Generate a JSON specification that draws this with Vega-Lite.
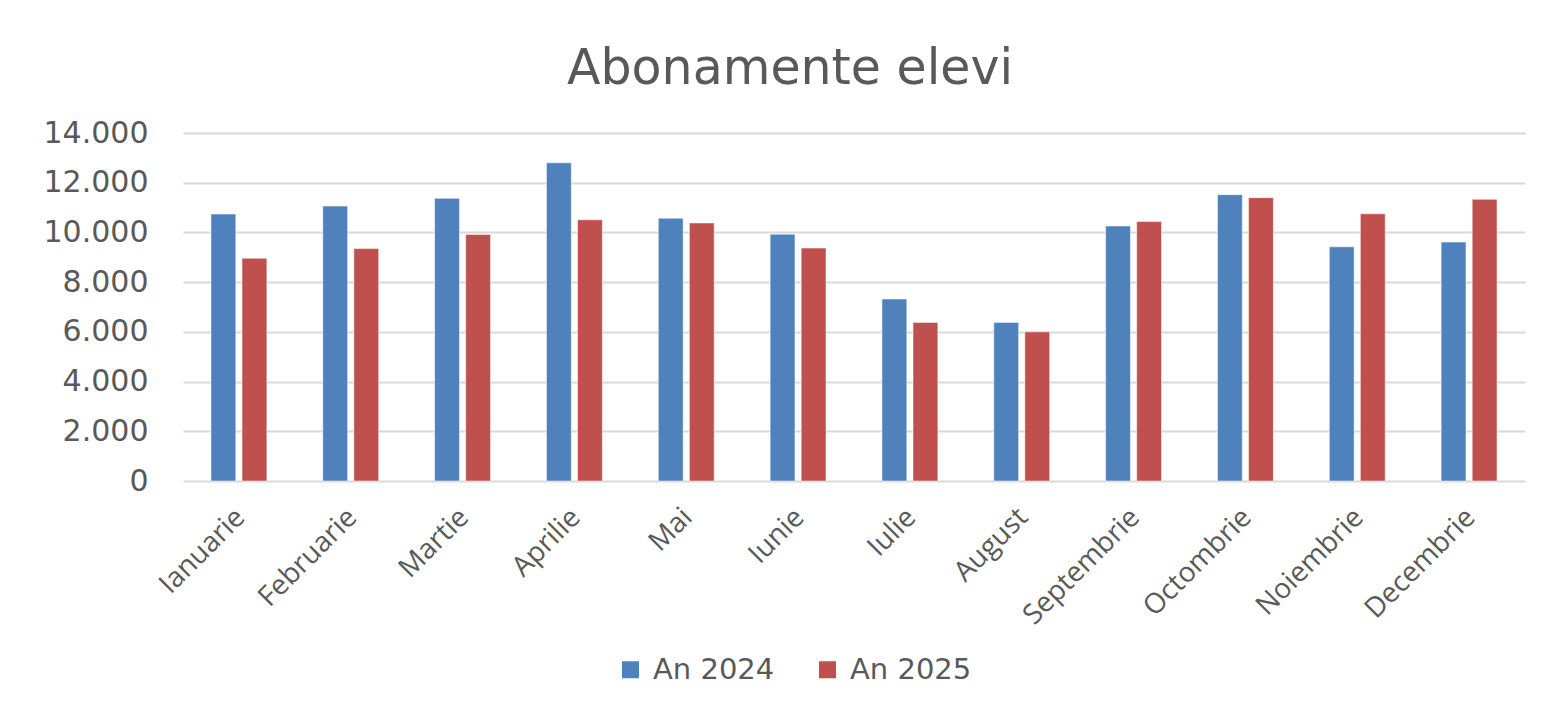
{
  "$schema": "https://vega.github.io/schema/vega-lite/v6.json",
  "width": 1342,
  "height": 348,
  "autosize": {"type": "none"},
  "padding": {"left": 183, "top": 133, "right": 22, "bottom": 230},
  "background": "white",
  "config": {
    "view": {"stroke": null},
    "locale": {"number": {"decimal": ",", "thousands": ".", "grouping": [3], "currency": ["", ""]}}
  },
  "title": {
    "text": "Abonamente elevi",
    "font": "DejaVu Sans",
    "fontSize": 49,
    "fontWeight": "normal",
    "color": "#595959",
    "anchor": "middle",
    "dx": -64,
    "offset": 24
  },
  "data": {
    "values": [
      {"luna": "Ianuarie", "an": "An 2024", "valoare": 10740},
      {"luna": "Ianuarie", "an": "An 2025", "valoare": 8960},
      {"luna": "Februarie", "an": "An 2024", "valoare": 11060},
      {"luna": "Februarie", "an": "An 2025", "valoare": 9350},
      {"luna": "Martie", "an": "An 2024", "valoare": 11370},
      {"luna": "Martie", "an": "An 2025", "valoare": 9920},
      {"luna": "Aprilie", "an": "An 2024", "valoare": 12800},
      {"luna": "Aprilie", "an": "An 2025", "valoare": 10510},
      {"luna": "Mai", "an": "An 2024", "valoare": 10570},
      {"luna": "Mai", "an": "An 2025", "valoare": 10380},
      {"luna": "Iunie", "an": "An 2024", "valoare": 9930},
      {"luna": "Iunie", "an": "An 2025", "valoare": 9370},
      {"luna": "Iulie", "an": "An 2024", "valoare": 7320},
      {"luna": "Iulie", "an": "An 2025", "valoare": 6380},
      {"luna": "August", "an": "An 2024", "valoare": 6380},
      {"luna": "August", "an": "An 2025", "valoare": 6000},
      {"luna": "Septembrie", "an": "An 2024", "valoare": 10260},
      {"luna": "Septembrie", "an": "An 2025", "valoare": 10440},
      {"luna": "Octombrie", "an": "An 2024", "valoare": 11520},
      {"luna": "Octombrie", "an": "An 2025", "valoare": 11400},
      {"luna": "Noiembrie", "an": "An 2024", "valoare": 9420},
      {"luna": "Noiembrie", "an": "An 2025", "valoare": 10750},
      {"luna": "Decembrie", "an": "An 2024", "valoare": 9610},
      {"luna": "Decembrie", "an": "An 2025", "valoare": 11330}
    ]
  },
  "mark": {"type": "bar", "strokeWidth": 1, "strokeOpacity": 0.5, "stroke": "white"},
  "encoding": {
    "x": {
      "field": "luna",
      "type": "nominal",
      "sort": null,
      "scale": {"paddingInner": 0.5, "paddingOuter": 0.25},
      "axis": {
        "title": null,
        "labelAngle": -45,
        "labelAlign": "right",
        "labelBaseline": "top",
        "labelFont": "Open Sans",
        "labelFontSize": 28,
        "labelColor": "#595959",
        "labelPadding": 22,
        "labelOffset": -8,
        "ticks": false,
        "domain": false
      }
    },
    "xOffset": {
      "field": "an",
      "type": "nominal",
      "scale": {"paddingInner": 0.2, "paddingOuter": 0}
    },
    "y": {
      "field": "valoare",
      "type": "quantitative",
      "scale": {"domain": [0, 14000], "nice": false},
      "axis": {
        "title": null,
        "values": [0, 2000, 4000, 6000, 8000, 10000, 12000, 14000],
        "format": ",d",
        "labelFont": "DejaVu Sans",
        "labelFontSize": 30,
        "labelColor": "#595959",
        "labelPadding": 35,
        "ticks": false,
        "domain": false,
        "gridColor": "#d9d9d9",
        "gridWidth": 2
      }
    },
    "color": {
      "field": "an",
      "type": "nominal",
      "scale": {"domain": ["An 2024", "An 2025"], "range": ["#4F81BD", "#C0504D"]},
      "legend": {
        "title": null,
        "orient": "none",
        "direction": "horizontal",
        "legendX": 433,
        "legendY": 522,
        "symbolType": "square",
        "symbolSize": 289,
        "symbolStrokeWidth": 0,
        "labelFont": "DejaVu Sans",
        "labelFontSize": 29,
        "labelColor": "#595959",
        "columnPadding": 38,
        "labelOffset": 8
      }
    }
  }
}
